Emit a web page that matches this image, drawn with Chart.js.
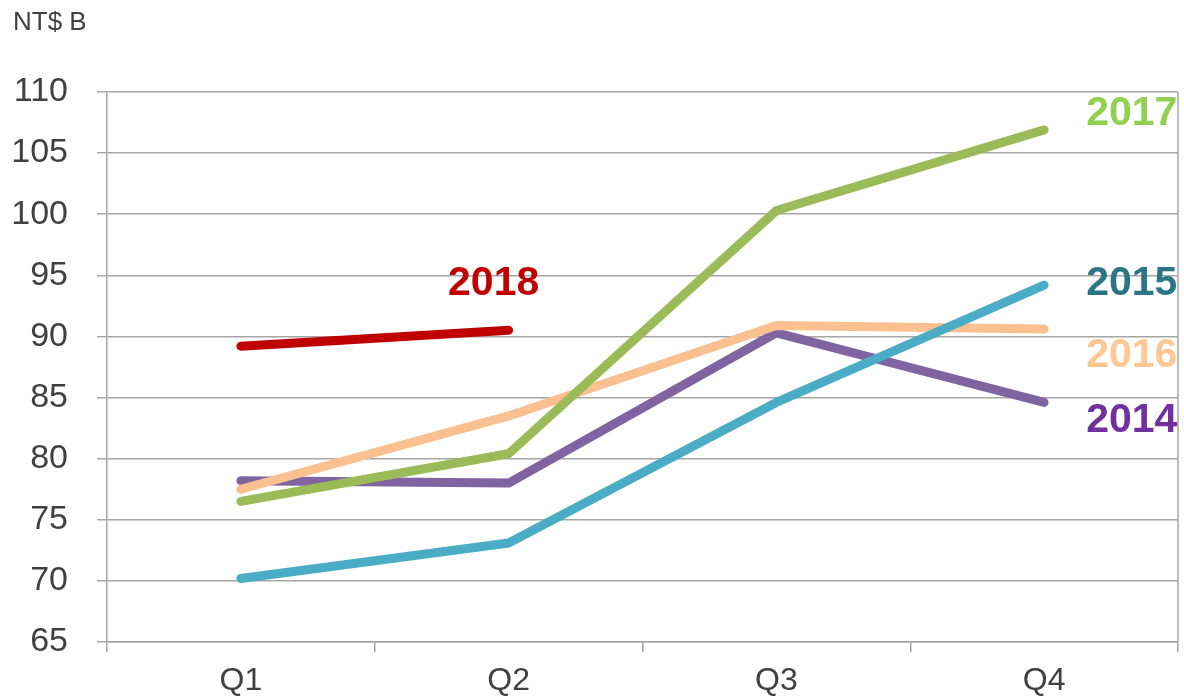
<!DOCTYPE html>
<html>
<head>
<meta charset="utf-8">
<script src="https://cdn.jsdelivr.net/npm/chart.js@4"></script>
<style>
  html, body { margin: 0; padding: 0; background: #fff; }
  #wrap { width: 1184px; height: 696px; }
</style>
</head>
<body>
<div id="wrap"><canvas id="mycanvas" width="1184" height="696"></canvas></div>
<script>
// quarterly figures, NT$ billion
var quarters = ["Q1", "Q2", "Q3", "Q4"];
var y2014 = [78.2, 78.0, 90.3, 84.6];
var y2015 = [70.2, 73.1, 84.6, 94.2];
var y2016 = [77.5, 83.5, 90.9, 90.6];
var y2017 = [76.5, 80.4, 100.3, 106.9];
var y2018 = [89.2, 90.5, null, null];

var unitLabel = "NT$ B";
var yTicks = { min: 65, max: 110, step: 5 };

// year tags next to the lines: [text, colour, category position, value]
var tags = [
  ["2017", "#92d050", 3.157, 108.25],
  ["2015", "#2b7585", 3.157, 94.3],
  ["2016", "#ffc893", 3.157, 88.4],
  ["2014", "#7030a0", 3.157, 83.1],
  ["2018", "#c00000", 0.944, 94.3]
];

var gridColor = "#a6a6a6";
var textColor = "#404040";
var fontFamily = "'Liberation Sans', Arial, sans-serif";

var extras = {
  id: "extras",
  afterDraw: function(chart) {
    var c = chart.ctx, a = chart.chartArea;
    var xs = chart.scales.x, ys = chart.scales.y;
    c.save();
    // right border of plot
    c.strokeStyle = gridColor;
    c.lineWidth = 1.5;
    c.beginPath();
    c.moveTo(a.right, a.top);
    c.lineTo(a.right, a.bottom);
    c.stroke();
    // unit
    c.fillStyle = textColor;
    c.font = "26px " + fontFamily;
    c.textAlign = "left";
    c.textBaseline = "middle";
    c.fillText(unitLabel, 13, 23);
    // year tags
    c.font = "bold 41px " + fontFamily;
    tags.forEach(function(t) {
      var px = xs.getPixelForValue(t[2]);
      var py = ys.getPixelForValue(t[3]);
      c.fillStyle = t[1];
      c.textAlign = t[0] === "2018" ? "center" : "left";
      c.fillText(t[0], px, py);
    });
    c.restore();
  }
};

function line(label, data, color) {
  return {
    label: label,
    data: data,
    borderColor: color,
    backgroundColor: color,
    borderWidth: 9,
    borderCapStyle: "round",
    borderJoinStyle: "round",
    pointRadius: 0,
    tension: 0,
    fill: false,
    spanGaps: false
  };
}

var ctx = document.getElementById("mycanvas");
var LineGraph = new Chart(ctx, {
  type: "line",
  data: {
    labels: quarters,
    datasets: [
      line("2018", y2018, "#c00000"),
      line("2015", y2015, "#4bacc6"),
      line("2017", y2017, "#9bbb59"),
      line("2016", y2016, "#fac090"),
      line("2014", y2014, "#8064a2")
    ]
  },
  options: {
    responsive: false,
    animation: { duration: 0 },
    layout: { padding: { left: 0, right: 6, top: 92, bottom: 0 } },
    plugins: {
      legend: { display: false },
      tooltip: { enabled: false }
    },
    scales: {
      x: {
        offset: true,
        grid: {
          offset: true,
          drawOnChartArea: false,
          drawTicks: true,
          tickLength: 10,
          color: gridColor,
          lineWidth: 1.5
        },
        border: { display: true, color: gridColor, width: 1.5 },
        ticks: {
          color: textColor,
          padding: 10,
          font: { family: fontFamily, size: 32 },
          maxRotation: 0
        },
        afterFit: function(s) { s.height = 54; }
      },
      y: {
        min: yTicks.min,
        max: yTicks.max,
        grid: {
          color: gridColor,
          lineWidth: 1.5,
          tickLength: 10
        },
        border: { display: true, color: gridColor, width: 1.5 },
        ticks: {
          stepSize: yTicks.step,
          color: textColor,
          padding: 29,
          font: { family: fontFamily, size: 34 }
        },
        afterFit: function(s) { s.width = 107; }
      }
    }
  },
  plugins: [extras]
});
</script>
</body>
</html>
